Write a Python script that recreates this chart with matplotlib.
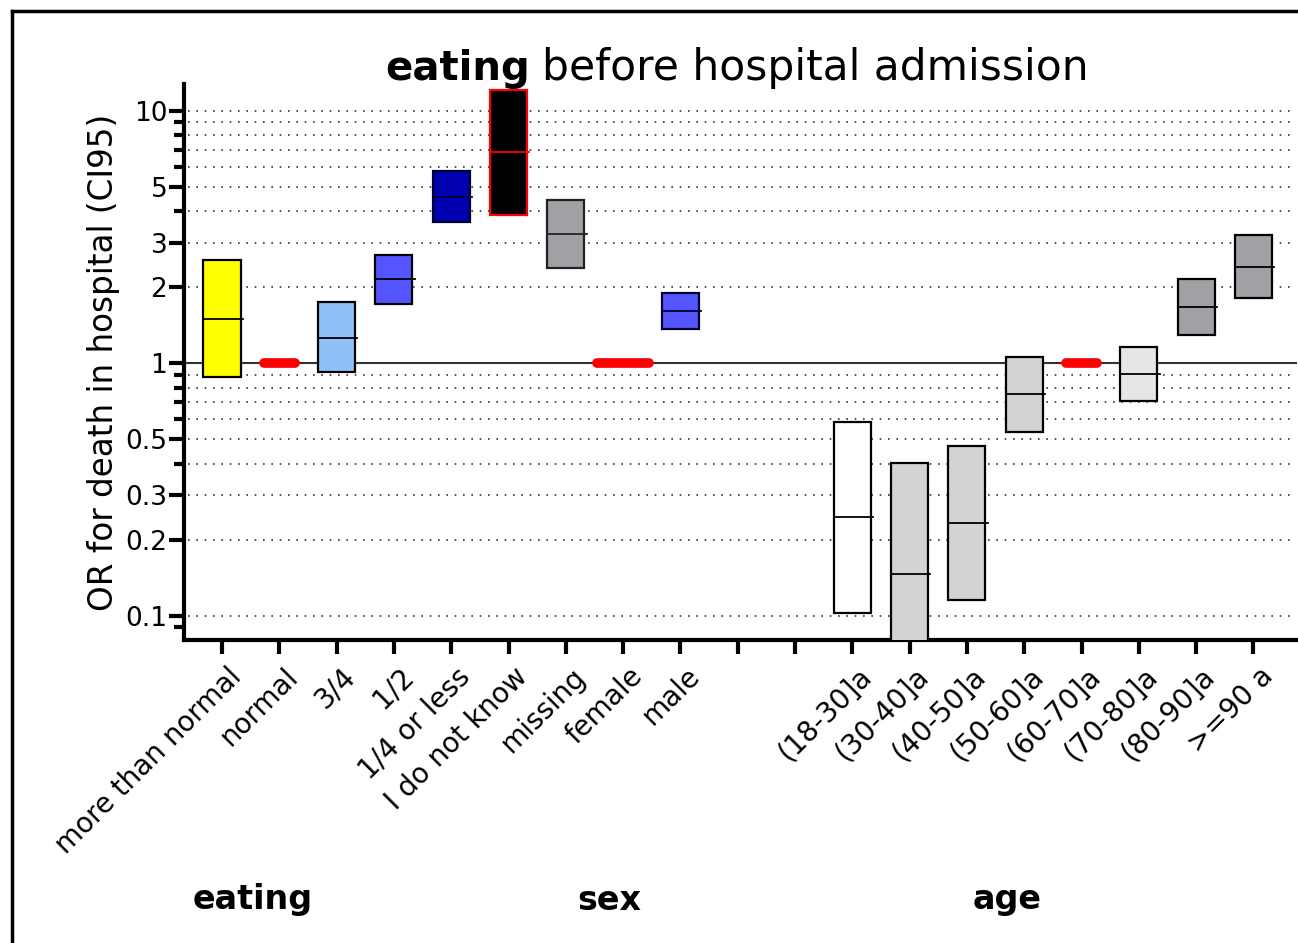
#!/usr/bin/env python3
"""OR for death in hospital by eating before admission, sex and age (box = CI95)."""
import matplotlib; matplotlib.use('Agg')
import matplotlib.pyplot as plt
from matplotlib.patches import Rectangle
from matplotlib.lines import Line2D
import matplotlib.transforms as mtransforms

plt.rcParams['font.family'] = ['DejaVu Sans']

# ---- data ----
labels = ["more than normal", "normal", "3/4", "1/2", "1/4 or less", "I do not know",
          "missing", "female", "male", "", "",
          "(18-30]a", "(30-40]a", "(40-50]a", "(50-60]a", "(60-70]a", "(70-80]a",
          "(80-90]a", ">=90 a"]
or_low = [0.88, None, 0.92, 1.72, 3.62, 3.87, 2.38, None, 1.37, None, None,
          0.102, 0.078, 0.115, 0.536, None, 0.705, 1.29, 1.81]
or_mid = [1.50, 1.0, 1.26, 2.15, 4.57, 6.89, 3.26, 1.0, 1.61, None, None,
          0.246, 0.146, 0.232, 0.754, 1.0, 0.905, 1.67, 2.41]
or_high = [2.57, None, 1.74, 2.69, 5.78, 12.1, 4.43, None, 1.89, None, None,
           0.587, 0.403, 0.470, 1.056, None, 1.16, 2.15, 3.22]
box_fill = ["#ffff00", None, "#90c0f8", "#5555ff", "#0000b0", "#000000", "#a0a0a5", None, "#5555ff",
            None, None, "#ffffff", "#d3d3d3", "#d3d3d3", "#d3d3d3", None, "#e6e6e6", "#a0a0a5", "#a0a0a5"]
box_edge = ["black", None, "black", "black", "#000030", "red", "#222222", None, "#000030",
            None, None, "black", "black", "black", "black", None, "black", "black", "black"]
ref_halfwidth = {"normal": 0.27, "female": 0.45, "(60-70]a": 0.27}
groups = ["eating", "sex", "age"]
group_x = [0.54, 6.75, 13.7]
yticks = [0.1, 0.2, 0.3, 0.5, 1, 2, 3, 5, 10]
yminor = [0.09, 0.2, 0.3, 0.4, 0.5, 0.6, 0.7, 0.8, 0.9, 2, 3, 4, 5, 6, 7, 8, 9]
grid_vals = [0.1, 0.2, 0.3, 0.4, 0.5, 0.6, 0.7, 0.8, 0.9, 2, 3, 4, 5, 6, 7, 8, 9, 10]

fig = plt.figure(figsize=(12.98, 9.43), dpi=100)
ax = fig.add_axes([184/1298, 1-640/943, (1297-184)/1298, (640-84)/943])
ax.set_yscale('log')
ax.set_xlim(-0.663, 18.76)
ax.set_ylim(0.080, 12.77)

# grid + reference line
for g in grid_vals:
    ax.plot([-0.6, 18.67], [g, g], color='#333333', lw=1.2, ls=(0, (1, 4)), zorder=1)
ax.axhline(1, color='#333333', lw=1.5, zorder=1)

bw = 0.323
for i, lab in enumerate(labels):
    if lab in ref_halfwidth:
        hw = ref_halfwidth[lab]
        ax.plot([i-hw, i+hw], [or_mid[i], or_mid[i]], color='red', lw=7,
                solid_capstyle='round', zorder=3)
        continue
    if or_low[i] is None:
        continue
    ax.add_patch(Rectangle((i-bw, or_low[i]), 2*bw, or_high[i]-or_low[i],
                           facecolor=box_fill[i], edgecolor=box_edge[i], lw=1.6, zorder=3))
    ax.plot([i-bw, i+bw+0.04], [or_mid[i]]*2, color=box_edge[i], lw=1.3, zorder=4)

# axes styling
for s in ['top', 'right']:
    ax.spines[s].set_visible(False)
for s in ['left', 'bottom']:
    ax.spines[s].set_linewidth(3)
ax.set_yticks(yticks)
ax.set_yticklabels([f"{v:g}" for v in yticks], fontsize=19)
ax.set_yticks(yminor, minor=True)
ax.yaxis.set_minor_formatter(plt.NullFormatter())
ax.tick_params(axis='y', which='major', length=11, width=3, pad=1)
ax.tick_params(axis='y', which='minor', length=7, width=3)
ax.set_xticks(range(len(labels)))
ax.set_xticklabels(labels, rotation=45, ha='right', va='top', rotation_mode='anchor', fontsize=20)
ax.tick_params(axis='x', length=10, width=3, pad=6)
off = mtransforms.ScaledTranslation(5/100, 0, fig.dpi_scale_trans)
for t in ax.get_xticklabels():
    t.set_transform(t.get_transform() + off)
ax.set_ylabel("OR for death in hospital (CI95)", fontsize=23.5, labelpad=4)

# title: bold first word
fig.text(530/1298, 1-80/943, "eating", fontsize=29, fontweight='bold', ha='right', va='baseline')
fig.text(542/1298, 1-80/943, "before hospital admission", fontsize=30.5, ha='left', va='baseline')

# group labels under the axis
gtrans = mtransforms.blended_transform_factory(ax.transData, fig.transFigure)
for g, gx in zip(groups, group_x):
    ax.text(gx, 1-900/943, g, transform=gtrans,
            fontsize=24, fontweight='bold', ha='center', va='center')

# outer frame (top and left edges visible)
fig.add_artist(Line2D([12/1298, 1.0], [1-11/943]*2, color='black', lw=2.5))
fig.add_artist(Line2D([12/1298]*2, [0.0, 1-11/943], color='black', lw=2.5))

fig.savefig('out.png', dpi=100)
